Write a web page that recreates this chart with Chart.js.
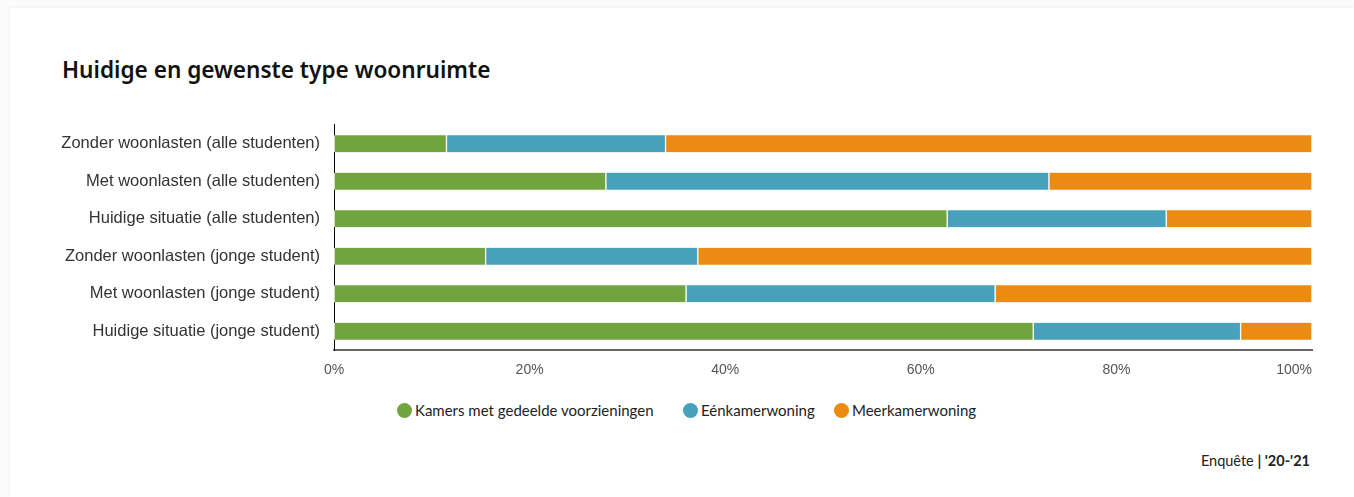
<!DOCTYPE html>
<html>
<head>
<meta charset="utf-8">
<script src="https://cdn.jsdelivr.net/npm/chart.js@4.4.0/dist/chart.umd.min.js"></script>
<style>
  html, body { margin: 0; padding: 0; background: #fbfbfb; width: 1354px; height: 497px; overflow: hidden; }
  #card { position: absolute; left: 10px; top: 8px; width: 1344px; height: 489px; background: #fff; box-shadow: 0 0 3px rgba(0,0,0,0.06); }
  #title { position: absolute; left: 62px; top: 54px; font-family: "Noto Sans", sans-serif; font-weight: 600; font-size: 22.6px; color: #111; white-space: nowrap; }
  #wrap { position: absolute; left: 0; top: 101px; width: 1354px; height: 280px; }
  #legend { position: absolute; top: 401px; left: 0; width: 1354px; height: 20px; font-family: "Lato", "Noto Sans", sans-serif; font-size: 15px; color: #222; }
  .li { position: absolute; top: 0; display: flex; align-items: center; white-space: nowrap; }
  .dot { width: 15px; height: 15px; border-radius: 50%; margin-right: 3px; }
  #footer { position: absolute; right: 44px; top: 452px; font-family: "Lato", "Noto Sans", sans-serif; font-size: 14.5px; color: #222; white-space: nowrap; }
</style>
</head>
<body>
<div id="card"></div>
<div id="title">Huidige en gewenste type woonruimte</div>
<div id="wrap"><canvas id="c" width="1354" height="280"></canvas></div>
<div id="legend"></div>
<div id="footer">Enquête <b>| '20-'21</b></div>
<script>
const categories = [
  "Zonder woonlasten (alle studenten)",
  "Met woonlasten (alle studenten)",
  "Huidige situatie (alle studenten)",
  "Zonder woonlasten (jonge student)",
  "Met woonlasten (jonge student)",
  "Huidige situatie (jonge student)"
];
const seriesNames = ["Kamers met gedeelde voorzieningen", "Eénkamerwoning", "Meerkamerwoning"];
const kamers = [11.5, 27.8, 62.7, 15.5, 36.0, 71.5];
const eenkamer = [22.4, 45.3, 22.4, 21.7, 31.6, 21.2];
const meerkamer = [66.1, 26.9, 14.9, 62.8, 32.4, 7.3];
const colors = ["#70a43e", "#47a1bb", "#eb8b11"];
const xTicks = [0, 20, 40, 60, 80, 100];

const seriesData = [kamers, eenkamer, meerkamer];
const datasets = seriesNames.map((n, i) => ({
  label: n,
  data: seriesData[i],
  backgroundColor: colors[i],
  borderColor: "#ffffff",
  borderWidth: { left: 1, right: 1, top: 0, bottom: 0 },
  borderSkipped: false,
  barThickness: 17
}));

// Draw x tick labels like the reference: centered, last one kept inside the plot
const xLabels = {
  id: "xLabels",
  afterDraw(chart) {
    const s = chart.scales.x, ctx = chart.ctx;
    ctx.save();
    ctx.font = "14px 'Liberation Sans'";
    ctx.fillStyle = "#555";
    ctx.textBaseline = "middle";
    const y = s.bottom + 20;
    xTicks.forEach((v, i) => {
      const px = s.getPixelForValue(v);
      const txt = v + "%";
      ctx.textAlign = (i === xTicks.length - 1) ? "right" : "center";
      ctx.fillText(txt, px, y);
    });
    ctx.restore();
  }
};

new Chart(document.getElementById("c"), {
  type: "bar",
  data: { labels: categories, datasets },
  options: {
    indexAxis: "y",
    responsive: false,
    animation: false,
    layout: { padding: { left: 0, right: 42, top: 4, bottom: 31 } },
    plugins: { legend: { display: false }, tooltip: { enabled: false } },
    scales: {
      x: {
        stacked: true,
        min: 0, max: 100,
        afterBuildTicks: (s) => { s.ticks = xTicks.map(v => ({ value: v })); },
        grid: { display: false, drawTicks: false },
        border: { display: true, color: "#666", width: 2 },
        ticks: { display: false }
      },
      y: {
        stacked: true,
        afterFit: (s) => { s.width = 334; },
        grid: { display: false, drawTicks: false },
        border: { display: true, color: "#000", width: 1 },
        ticks: {
          padding: 14,
          color: "#333",
          font: { family: "Liberation Sans", size: 16.5 }
        }
      }
    }
  },
  plugins: [xLabels]
});

const legendPos = [397, 683, 834];
const lg = document.getElementById("legend");
seriesNames.forEach((n, i) => {
  const d = document.createElement("div");
  d.className = "li";
  d.style.left = legendPos[i] + "px";
  d.innerHTML = '<span class="dot" style="background:' + colors[i] + '"></span><span>' + n + '</span>';
  lg.appendChild(d);
});
</script>
</body>
</html>
